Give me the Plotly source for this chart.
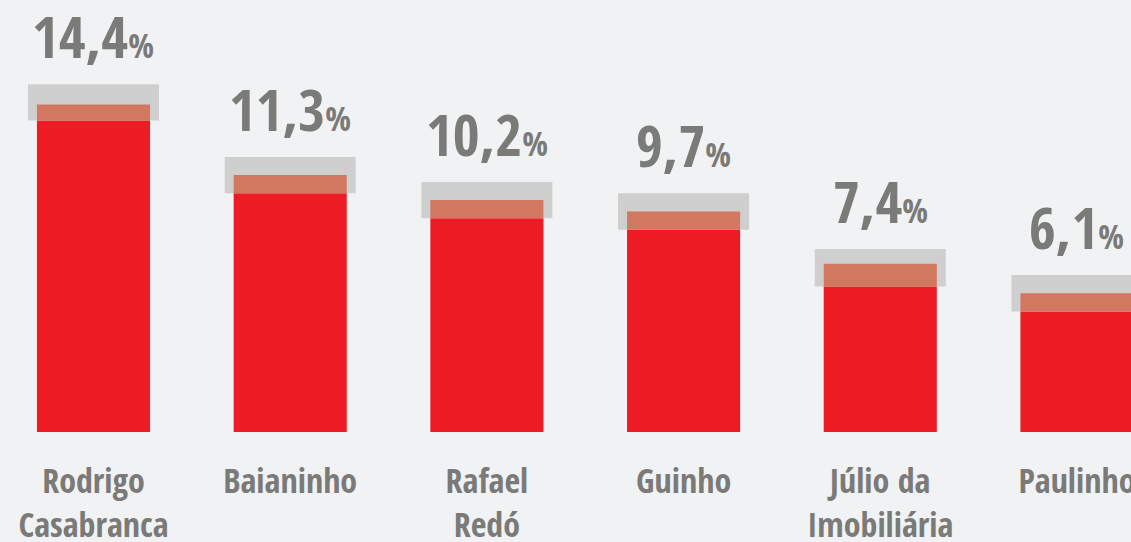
import plotly.graph_objects as go

# --- data ------------------------------------------------------------------
candidates = ["Rodrigo<br>Casabranca", "Baianinho", "Rafael<br>Redó", "Guinho",
              "Júlio da<br>Imobiliária", "Paulinho"]
values = [14.4, 11.3, 10.2, 9.7, 7.4, 6.1]
labels = ["14,4", "11,3", "10,2", "9,7", "7,4", "6,1"]
# margin-of-error band (low / high) around each value
band_lo = [13.7, 10.5, 9.4, 8.9, 6.4, 5.3]
band_hi = [15.3, 12.1, 11.0, 10.5, 8.05, 6.9]

BG = "#f1f2f4"
RED = "#ed1c24"
OVERLAP = "#d27860"
BAND = "#cfcfcf"
TEXT = "#7a7a78"
FONT = "Open Sans Condensed, Roboto Condensed, sans-serif"

fig = go.Figure()

# gray band (wider than the bar)
fig.add_trace(go.Bar(
    x=candidates, y=[h - l for l, h in zip(band_lo, band_hi)], base=band_lo,
    width=0.666, marker=dict(color=BAND, line_width=0), hoverinfo="skip",
))
# red bar up to the bottom of the band
fig.add_trace(go.Bar(
    x=candidates, y=band_lo, width=0.575,
    marker=dict(color=RED, line_width=0), hoverinfo="skip",
))
# overlap part (band bottom -> value)
fig.add_trace(go.Bar(
    x=candidates, y=[v - l for v, l in zip(values, band_lo)], base=band_lo,
    width=0.575, marker=dict(color=OVERLAP, line_width=0), hoverinfo="skip",
))

for c, h, lab in zip(candidates, band_hi, labels):
    fig.add_annotation(
        x=c, y=h, yanchor="bottom", yshift=7, showarrow=False,
        text=f"<b>{lab}<span style='font-size:34px'>%</span></b>",
        font=dict(family=FONT, size=58, color=TEXT),
    )

fig.update_layout(
    width=1131, height=542,
    paper_bgcolor=BG, plot_bgcolor=BG,
    barmode="overlay", showlegend=False,
    margin=dict(l=0, r=0, t=0, b=110),
    xaxis=dict(
        type="category", range=[-0.4753, 5.2747], automargin=False,
        showgrid=False, zeroline=False, showline=False, ticks="",
        tickangle=0, ticklabelstandoff=26,
        tickfont=dict(family=FONT, size=34, color=TEXT),
        fixedrange=True,
    ),
    yaxis=dict(range=[0, 19.0], visible=False, fixedrange=True,
               automargin=False),
)
fig.update_xaxes(tickvals=candidates,
                 ticktext=[f"<b>{c}</b>" for c in candidates])

fig.write_html("out.html", config=dict(displayModeBar=False),
               post_script="document.body.style.margin='0';")
